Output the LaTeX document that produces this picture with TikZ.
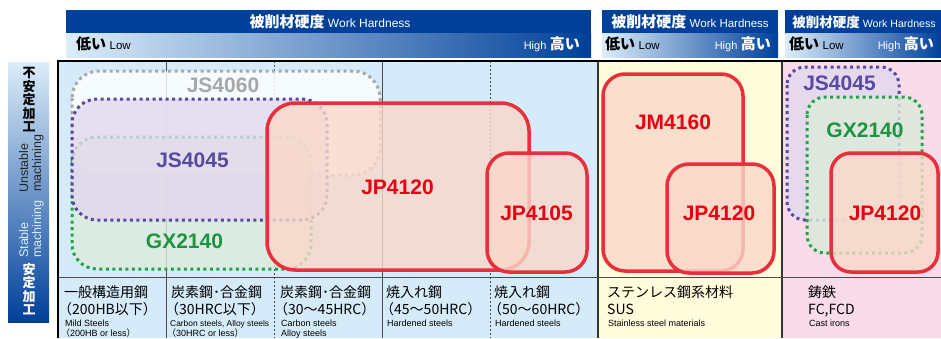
\documentclass[tikz,border=0pt]{standalone}
\usepackage{fontspec}
\setmainfont{Liberation Sans}
\newfontfamily\jpfont{Noto Sans CJK JP}
\definecolor{hdblue}{HTML}{00409A}
\definecolor{hdlight}{HTML}{DCEDF9}
\definecolor{hdmid}{HTML}{9DB2DA}
\definecolor{bgblue}{HTML}{D5EBF9}
\definecolor{bgyellow}{HTML}{FFFBDB}
\definecolor{bgpink}{HTML}{F9DBE9}
\definecolor{boxred}{HTML}{E8303D}
\definecolor{txtred}{HTML}{E60012}
\definecolor{boxfill}{HTML}{FAD8CA}
\definecolor{gxgreen}{HTML}{1FA548}
\definecolor{gxfill}{HTML}{DDEBDB}
\definecolor{jspurple}{HTML}{574AA0}
\definecolor{jsfill}{HTML}{E2D8EE}
\definecolor{jsgray}{HTML}{A8A8A8}

\begin{document}
\begin{tikzpicture}[x=1pt,y=-1pt,
  hdjp/.style={text=white,inner sep=0pt,anchor=base,font=\jpfont\bfseries\fontsize{15}{15}\selectfont},
  grade/.style={inner sep=0pt,font=\bfseries\fontsize{21}{21}\selectfont},
  redbox/.style={draw=boxred,line width=3.5pt,fill=boxfill,fill opacity=.8},
  dotbox/.style={line width=3pt,dash pattern=on 3pt off 3.5pt,fill opacity=.8},
  gridline/.style={black!70,line width=.8pt},
  gridnote/.style={black!70,line width=.8pt,dash pattern=on 2pt off 2pt},
  matjp/.style={anchor=base west,inner sep=0pt,font=\jpfont\fontsize{14}{14}\selectfont},
  matsm/.style={anchor=base west,inner sep=0pt,font=\fontsize{9}{9}\selectfont},
  sidetext/.style={rotate=90,anchor=base west,inner sep=0pt,font=\fontsize{12.5}{12.5}\selectfont}]
\useasboundingbox (0,0) rectangle (941,338);
% header bars
\fill[hdblue] (66,10) rectangle (591,33);
\shade[left color=hdlight,middle color=hdmid,right color=hdblue] (66,33) rectangle (591,57);
\fill[hdblue] (602,10) rectangle (778,33);
\shade[left color=hdlight,middle color=hdmid,right color=hdblue] (602,33) rectangle (778,57);
\fill[hdblue] (785,10) rectangle (941,33);
\shade[left color=hdlight,middle color=hdmid,right color=hdblue] (785,33) rectangle (941,57);
\node[hdjp] (hd1) at (330,27) {被削材硬度 {\rmfamily\mdseries\fontsize{12}{12}\selectfont Work Hardness}};
\node[hdjp] (hd2) at (690,27) {被削材硬度 {\rmfamily\mdseries\fontsize{11.5}{11.5}\selectfont Work Hardness}};
\node[hdjp,font=\jpfont\bfseries\fontsize{13.5}{13.5}\selectfont] (hd3) at (864,27) {被削材硬度 {\rmfamily\mdseries\fontsize{10.6}{10.6}\selectfont Work Hardness}};
\node[hdjp,anchor=base west,text=black] (low1) at (76,49.5) {低い {\rmfamily\mdseries\fontsize{11.5}{11.5}\selectfont Low}};
\node[hdjp,anchor=base west,text=black] (low2) at (605,49.5) {低い {\rmfamily\mdseries\fontsize{11.5}{11.5}\selectfont Low}};
\node[hdjp,anchor=base west,text=black] (low3) at (789,49.5) {低い {\rmfamily\mdseries\fontsize{11.5}{11.5}\selectfont Low}};
\node[hdjp,anchor=base east] (high1) at (580,49.5) {{\rmfamily\mdseries\fontsize{11}{11}\selectfont High} 高い};
\node[hdjp,anchor=base east] (high2) at (771,49.5) {{\rmfamily\mdseries\fontsize{11}{11}\selectfont High} 高い};
\node[hdjp,anchor=base east] (high3) at (934,49.5) {{\rmfamily\mdseries\fontsize{11}{11}\selectfont High} 高い};
% side label
\shade[top color=hdlight,middle color=hdmid!80!hdlight,bottom color=hdblue] (8,62) rectangle (49,322);
\node[inner sep=0pt,align=center,font=\jpfont\bfseries\fontsize{13}{13.5}\selectfont] (unst) at (29,100) {不\\安\\定\\加\\工};
\node[sidetext,text=black!85] (unst1) at (28,193) {Unstable};
\node[sidetext,text=black!85] (unst2) at (41,192) {machining};
\node[sidetext,text=hdlight] (stab1) at (28,258) {Stable};
\node[sidetext,text=hdlight] (stab2) at (41,258) {machining};
\node[inner sep=0pt,align=center,text=white,font=\jpfont\bfseries\fontsize{13}{13.5}\selectfont] (stab) at (29,289) {安\\定\\加\\工};
% chart area
\fill[bgblue] (58,61) rectangle (598,338);
\fill[bgyellow] (598,61) rectangle (782,338);
\fill[bgpink] (782,61) rectangle (941,338);
\draw[gridline] (166,61) -- (166,338);
\draw[gridnote] (274,61) -- (274,338);
\draw[gridline] (382,61) -- (382,338);
\draw[gridnote] (490,61) -- (490,338);
\draw[black!80,line width=1.2pt] (598,61) -- (598,338);
\draw[black!80,line width=1.2pt] (782,61) -- (782,338);
\draw[gridline] (58,277) -- (941,277);
\draw[line width=1.5pt] (58,338) -- (58,61) -- (941,61);
% ranges, steels
\path[dotbox,draw=jsgray,fill=white,rounded corners=27pt] (72,71) rectangle (380,175);
\path[dotbox,draw=gxgreen,fill=gxfill,rounded corners=25pt] (72,137) rectangle (311,269);
\path[dotbox,draw=jspurple,fill=jsfill,rounded corners=25pt] (72,99) rectangle (327,220);
\path[redbox,rounded corners=28pt] (267,103) rectangle (529,270);
\path[redbox,rounded corners=22pt] (487,153) rectangle (587,272);
% ranges, stainless
\path[redbox,rounded corners=22pt] (603,74) rectangle (743,271);
\path[redbox,rounded corners=22pt] (667,164) rectangle (774,273);
% ranges, cast iron
\path[dotbox,draw=jspurple,fill=jsfill,rounded corners=18pt] (787,67) rectangle (899,220);
\path[dotbox,draw=gxgreen,fill=gxfill,rounded corners=18pt] (807,97) rectangle (922,253);
\path[redbox,rounded corners=20pt] (831,153) rectangle (938,272);
\node[grade,text=jsgray] (js4060) at (223,85) {JS4060};
\node[grade,text=jspurple] (js4045) at (192.5,160.5) {JS4045};
\node[grade,text=gxgreen!90!black] (gx2140) at (184.5,241.5) {GX2140};
\node[grade,text=txtred] (jp4120) at (397.5,187.5) {JP4120};
\node[grade,text=txtred] (jp4105) at (536.5,213) {JP4105};
\node[grade,text=txtred] (jm4160) at (673,122.5) {JM4160};
\node[grade,text=txtred] (jp4120s) at (719,213) {JP4120};
\node[grade,text=jspurple] (js4045c) at (839.5,83.5) {JS4045};
\node[grade,text=gxgreen!90!black] (gx2140c) at (865,130.5) {GX2140};
\node[grade,text=txtred] (jp4120c) at (885,213.5) {JP4120};
% materials
\node[matjp] (mild1) at (64,297) {一般構造用鋼};
\node[matjp] (mild2) at (58,314) {（200HB以下）};
\node[matsm] (mild3) at (65,326) {Mild Steels};
\node[matsm] (mild4) at (61,336) {{\jpfont （}200HB or less{\jpfont ）}};
\node[matjp] (carb1) at (171,297) {炭素鋼･合金鋼};
\node[matjp] (carb2) at (165,314) {（30HRC以下）};
\node[matsm,font=\fontsize{8.4}{8.4}\selectfont] (carb3) at (170,326) {Carbon steels, Alloy steels};
\node[matsm] (carb4) at (167,336) {{\jpfont （}30HRC or less{\jpfont ）}};
\node[matjp] (allo1) at (280,297) {炭素鋼･合金鋼};
\node[matjp] (allo2) at (274,314) {（30～45HRC）};
\node[matsm] (allo3) at (281,326) {Carbon steels};
\node[matsm] (allo4) at (281,336) {Alloy steels};
\node[matjp] (hard1) at (386,297) {焼入れ鋼};
\node[matjp] (hard2) at (380,314) {（45～50HRC）};
\node[matsm] (hard3) at (387,326) {Hardened steels};
\node[matjp] (hrdr1) at (494,297) {焼入れ鋼};
\node[matjp] (hrdr2) at (488,314) {（50～60HRC）};
\node[matsm] (hrdr3) at (495,326) {Hardened steels};
\node[matjp] (sus1) at (607,297) {ステンレス鋼系材料};
\node[matjp] (sus2) at (607,314) {SUS};
\node[matsm] (sus3) at (608,326) {Stainless steel materials};
\node[matjp] (fc1) at (808,297) {鋳鉄};
\node[matjp] (fc2) at (808,314) {FC,FCD};
\node[matsm] (fc3) at (809,326) {Cast irons};
\end{tikzpicture}
\end{document}
